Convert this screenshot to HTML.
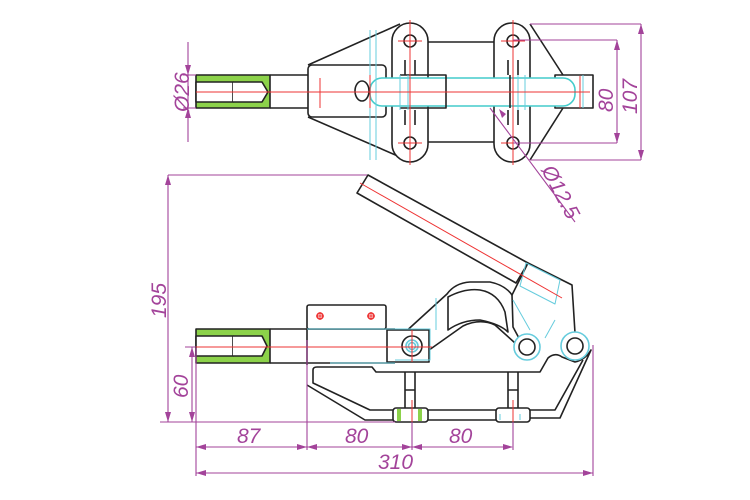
<!DOCTYPE html>
<html><head><meta charset="utf-8"><style>html,body{margin:0;padding:0;background:#fff}svg{display:block}</style></head>
<body>
<svg width="750" height="500" viewBox="0 0 750 500" xmlns="http://www.w3.org/2000/svg" font-family="Liberation Sans, sans-serif">
<g fill="none" stroke="#222" stroke-width="1.6" stroke-linejoin="round">
<!-- TOP VIEW -->
<rect x="196" y="75" width="74" height="33" fill="#8cd24a" stroke="#222"/>
<rect x="196" y="82" width="37" height="20" fill="#fff"/>
<path d="M233 82 H262 L268 92 L262 102 H233" fill="#fff"/>
<path d="M270 75 H308 M270 108 H308"/>
<rect x="308" y="65" width="78" height="52" rx="4" fill="#fff"/>
<path d="M308 65 L400 24 M308 117 L400 157"/>
<path d="M428 42 H494 M428 142 H494"/>
<rect x="392" y="23" width="36" height="139" rx="18" fill="#fff"/>
<rect x="494" y="23" width="36" height="139" rx="18" fill="#fff"/>
<path d="M530 24 L563 75 M530 160 L563 108"/>
<circle cx="410" cy="41" r="6"/><circle cx="410" cy="143" r="6"/>
<circle cx="513" cy="41" r="6"/><circle cx="513" cy="143" r="6"/>
<path d="M405 60 V75 M415 60 V75 M405 110 V125 M415 110 V125 M508 60 V75 M518 60 V75 M508 110 V125 M518 110 V125"/>
<rect x="555" y="75" width="38" height="33" fill="#fff"/>
<rect x="370" y="78" width="205" height="28" rx="12" fill="#fff" stroke="#4cc"/>
<path d="M400 75 H446 V108 H400 M510 75 V108" stroke="#222"/>
<ellipse cx="362" cy="91" rx="7" ry="10" fill="#fff"/>
<g stroke="#6cd" stroke-width="1"><path d="M370 30 V160 M376 30 V160 M400 75 V110 M408 75 V110 M518 75 V110 M525 75 V110 M583 75 V108"/></g>
<g stroke="#e33" stroke-width="1"><path d="M196 92 H590 M320 78 V108 M370 75 V108 M410 20 V165 M513 20 V165 M398 41 H422 M398 143 H422 M501 41 H525 M501 143 H525 M580 76 V108"/></g>
<!-- BOTTOM VIEW -->
<!-- handle -->
<path d="M368 175 L357 193 L516 283 L528 263 Z" fill="#fff"/>
<!-- body -->
<path d="M402 335 L447 294 Q455 283 470 282 L490 282 Q505 285 512 295 L528 263 L572 285 L575 333" fill="#fff"/>
<path d="M402 335 Q395 345 400 355 Q405 362 415 360 L463 326 Q480 318 495 325 L515 343" fill="#fff"/>
<path d="M448 297 Q465 288 480 290 Q498 293 505 312 L508 332 Q500 324 480 320 Q462 320 448 330 Z" fill="#fff"/>
<path d="M512 295 L513 327 L520 340"/>
<path d="M526 263 L560 280 L555 304 L520 286 Z" stroke="#6cd" stroke-width="1"/>
<path d="M513 300 L530 330 M555 320 L545 338" stroke="#6cd" stroke-width="1"/>
<!-- rod -->
<rect x="196" y="329" width="74" height="34" fill="#8cd24a"/>
<rect x="196" y="336" width="37" height="20" fill="#fff"/>
<path d="M233 336 H262 L267 346 L262 356 H233" fill="#fff"/>
<path d="M270 329 H395 M270 363 H395"/>
<rect x="307" y="305" width="79" height="24" rx="2" fill="#fff"/>
<path d="M307 329 V365"/>
<rect x="387" y="330" width="42" height="32" fill="#fff" stroke="#222"/>
<!-- frame -->
<path d="M313 370 Q313 367 317 367 H372 L376 372 H540 L548 358 Q555 352 562 357 L575 362 Q585 360 591 350 L560 418 H530 M313 370 V383 L370 410 H393 M307 385 L365 420 H393 M428 410 H496 M428 420 H496"/>
<path d="M530 410 H555 L583 360" />
<path d="M405 372 V408 M415 372 V408 M508 372 V408 M518 372 V408 M405 390 H415 M508 390 H518"/>
<rect x="393" y="408" width="35" height="14" rx="3" fill="#fff"/>
<rect x="496" y="408" width="34" height="14" rx="3" fill="#fff"/>
<rect x="397" y="409" width="4" height="12" fill="#8cd24a" stroke="none"/>
<rect x="418" y="409" width="4" height="12" fill="#8cd24a" stroke="none"/>
<circle cx="412" cy="346" r="10" fill="#fff" stroke="#222"/>
<circle cx="412" cy="346" r="6" stroke="#6cd"/><circle cx="412" cy="346" r="3.5" stroke="#6cd"/>
<circle cx="527" cy="347" r="13" fill="#fff" stroke="#6cd"/><circle cx="527" cy="347" r="8" stroke="#222"/>
<circle cx="575" cy="346" r="14" fill="#fff" stroke="#6cd"/><circle cx="575" cy="346" r="8" stroke="#222"/>
<path d="M307 329 H430 V360 H395 M330 363 H395 M436 298 V330 M500 414 V420 M520 414 V420" stroke="#6cd" stroke-width="1"/>
<g stroke="#e33" stroke-width="1"><path d="M196 347 H432 M360 183 L562 298 M412 330 V362 M412 400 V425 M513 400 V425 M316 316 H324 M320 312 V320 M367 316 H375 M371 312 V320"/></g>
<circle cx="320" cy="316" r="3" stroke="#e33"/><circle cx="371" cy="316" r="3" stroke="#e33"/>
</g>
<!-- DIMENSIONS -->
<g stroke="#a3439a" stroke-width="1.1" fill="none">
<path d="M188 42 V142 M183 75 H196 M183 108 H196"/>
<path d="M530 24 H641 M530 160 H641 M513 40 H617 M513 143 H617 M617 40 V143 M641 24 V160"/>
<path d="M490 108 L575 222"/>
<path d="M168 175 V422 M168 175 H367 M160 422 H395 M192 347 V422 M185 347 H196"/>
<path d="M196 348 V476 M307 340 V450 M412 422 V450 M513 422 V450 M593 345 V476 M196 447 H512 M196 473 H593"/>
</g>
<g fill="#a3439a">
<path d="M188 75 l-3 -10 h6z M188 108 l-3 10 h6z M617 40 l-3 10 h6z M617 143 l-3 -10 h6z M641 24 l-3 10 h6z M641 160 l-3 -10 h6z M168 175 l-3 10 h6z M168 422 l-3 -10 h6z M192 347 l-3 10 h6z M192 422 l-3 -10 h6z"/>
<path d="M196 447 l10 -3 v6z M307 447 l-10 -3 v6z M307 447 l10 -3 v6z M412 447 l-10 -3 v6z M412 447 l10 -3 v6z M513 447 l-10 -3 v6z M196 473 l10 -3 v6z M593 473 l-10 -3 v6z M502 118 l-3 -9 l7 5z"/>
</g>
<g fill="#a3439a" font-size="21" font-style="italic">
<text transform="translate(189 112) rotate(-90)">Ø26</text>
<text transform="translate(613 112) rotate(-90)">80</text>
<text transform="translate(637 114) rotate(-90)">107</text>
<text transform="translate(541 170) rotate(62)">Ø12.5</text>
<text transform="translate(166 318) rotate(-90)">195</text>
<text transform="translate(188 398) rotate(-90)">60</text>
<text x="237" y="443">87</text>
<text x="345" y="443">80</text>
<text x="449" y="443">80</text>
<text x="378" y="469">310</text>
</g>
</svg>
</body></html>
